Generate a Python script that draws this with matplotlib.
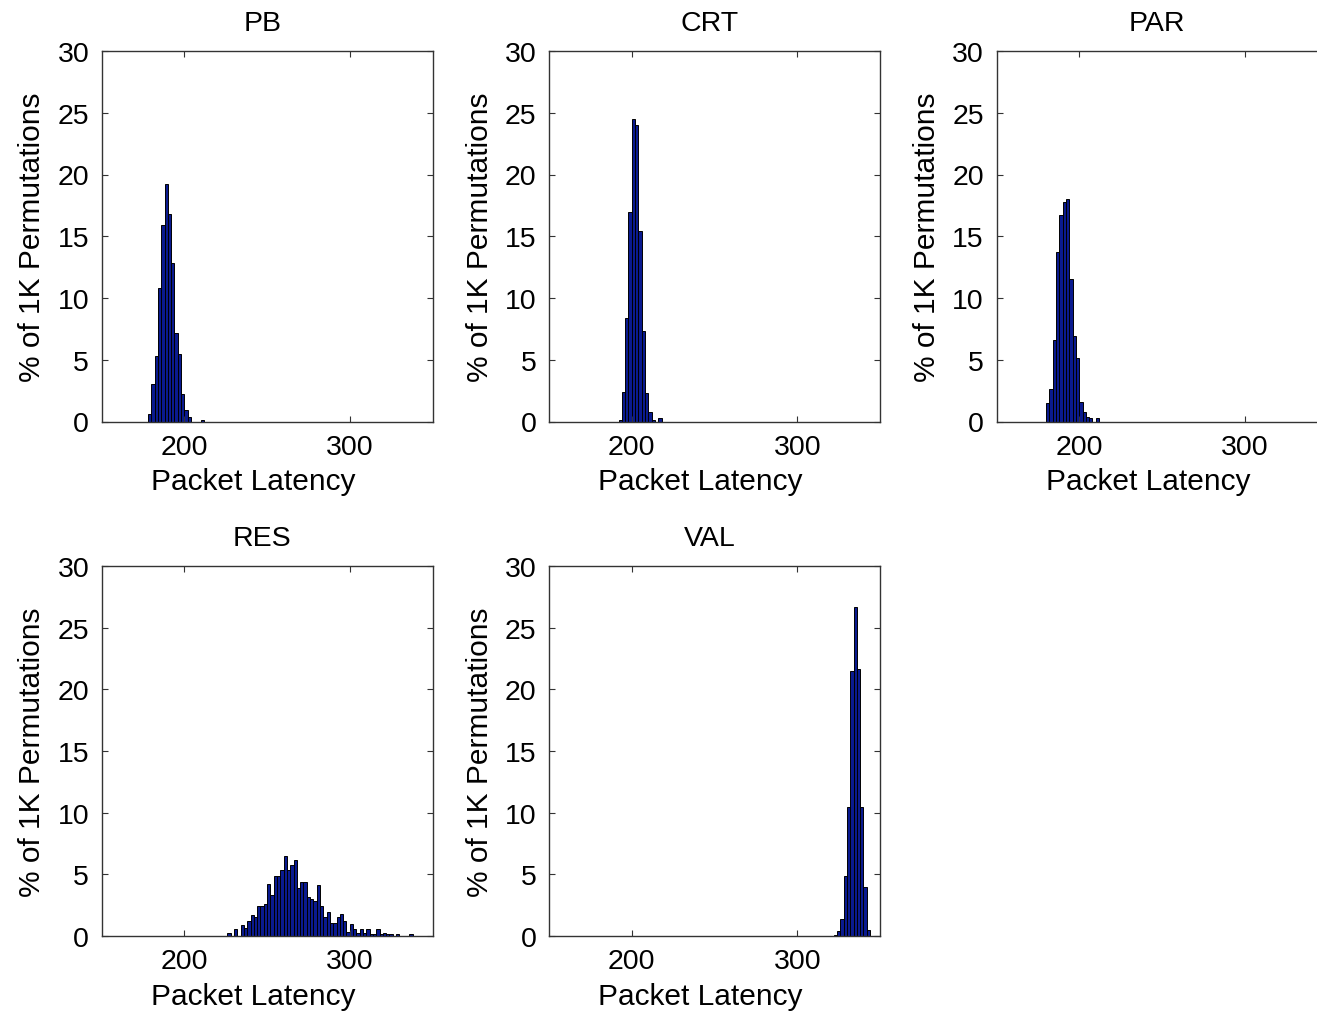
import matplotlib
matplotlib.use('Agg')
import matplotlib.pyplot as plt
import numpy as np

plt.rcParams['font.family'] = ['Liberation Sans', 'DejaVu Sans']

# histogram bins: 2-cycle wide, 150..350
bin_edges = np.arange(150, 352, 2)
bin_centers = (bin_edges[:-1] + bin_edges[1:]) / 2

# first non-empty bin centre and % of permutations per bin, for each scheme
pb_start = 179
pb_pct = [0.6, 3.05, 5.3, 10.8, 15.9, 19.2, 16.8, 12.85, 7.2, 5.5, 2.2, 0.9, 0.4,
          0, 0, 0, 0.15]

crt_start = 193
crt_pct = [0.1, 2.36, 8.4, 17.0, 24.5, 24.0, 15.4, 7.3, 2.3, 0.8, 0.1, 0, 0.25]

par_start = 181
par_pct = [1.46, 2.6, 6.56, 13.7, 16.7, 17.75, 18.0, 11.5, 6.9, 5.15, 1.6, 0.8,
           0.4, 0.3, 0, 0.3]

res_start = 227
res_pct = [0.27, 0, 0.54, 0, 0.92, 0.65, 1.19, 1.68, 1.54, 2.43, 2.43, 2.57, 4.24,
           3.35, 4.86, 4.86, 5.35, 6.5, 5.35, 5.76, 6.14, 3.86, 4.38, 4.38, 3.19,
           2.97, 2.81, 4.1, 2.43, 1.54, 1.95, 1.08, 1.08, 1.54, 1.81, 1.19, 0.32,
           0.95, 0.54, 0.27, 0.54, 0.27, 0.54, 0.14, 0.14, 0.54, 0.14, 0.27, 0.14,
           0.14, 0, 0.14, 0, 0, 0, 0.14]

val_start = 323
val_pct = [0.1, 0.38, 1.38, 4.86, 10.46, 21.46, 26.7, 21.65, 10.46, 3.95, 0.49]

titles = ['PB', 'CRT', 'PAR', 'RES', 'VAL']
starts = [pb_start, crt_start, par_start, res_start, val_start]
series = [pb_pct, crt_pct, par_pct, res_pct, val_pct]

W, H = 1317, 1012
# axes boxes in pixels: left, top, right, bottom
boxes = [(101.7, 52, 432.5, 422.5), (549, 52, 880, 422.5), (996.5, 52, 1327.5, 422.5),
         (101.7, 567, 432.5, 937), (549, 567, 880, 937)]

bar_color = '#0a1a8f'
fs_tick = 20.5
fs_label = 21.5

fig = plt.figure(figsize=(W / 100, H / 100), dpi=100)

for title, start, pct, (l, t, r, b) in zip(titles, starts, series, boxes):
    ax = fig.add_axes([l / W, 1 - b / H, (r - l) / W, (b - t) / H])
    heights = np.zeros(len(bin_centers))
    i0 = int(np.searchsorted(bin_centers, start))
    heights[i0:i0 + len(pct)] = pct
    ax.bar(bin_centers, heights, width=2, color=bar_color, edgecolor='black',
           linewidth=0.7)
    ax.set_xlim(150, 350)
    ax.set_ylim(0, 30)
    ax.set_xticks([200, 300])
    ax.set_yticks(range(0, 31, 5))
    ax.tick_params(direction='in', top=True, right=True, length=4, width=0.8,
                   labelsize=fs_tick, pad=9, color='#333333')
    for s in ax.spines.values():
        s.set_linewidth(1.0)
        s.set_color('#333333')
    ax.set_title(title, fontsize=fs_tick, pad=15, x=0.485)
    ax.set_xlabel('Packet Latency', fontsize=fs_label)
    ax.xaxis.set_label_coords(0.457, -0.124)
    ax.set_ylabel('% of 1K Permutations', fontsize=fs_label, labelpad=8)

plt.savefig('out.png', dpi=100)
